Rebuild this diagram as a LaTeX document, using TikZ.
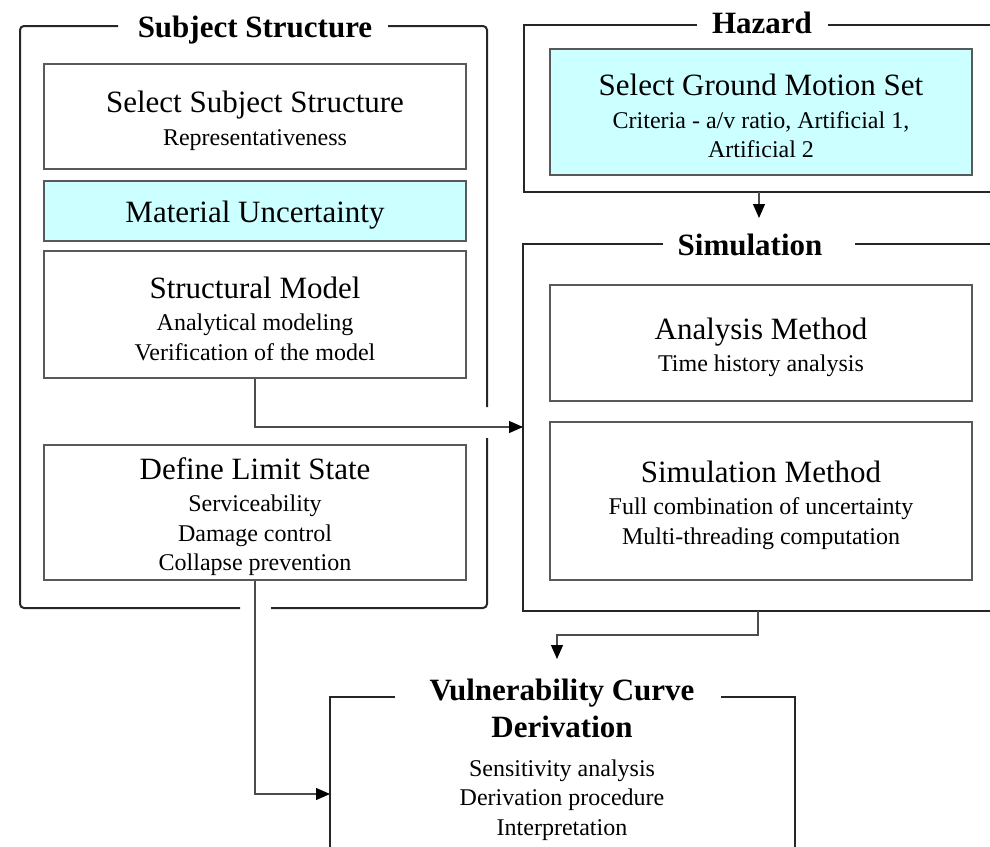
\documentclass[tikz,border=0pt]{standalone}
\usepackage{fontspec}
\setmainfont{Liberation Serif}
\usetikzlibrary{arrows.meta}

\definecolor{lcyan}{RGB}{204,255,255}
\newcommand{\boxhead}{\fontsize{31}{36}\selectfont\rule{0pt}{30pt}}

\begin{document}
\begin{tikzpicture}[x=1pt, y=-1pt,
    box/.style={draw=black!65, line width=1.3pt, minimum width=422pt, align=center, inner sep=0pt, font=\fontsize{24}{29.5}\selectfont},
    grpframe/.style={draw=black!85, line width=2pt},
    grp/.style={font=\fontsize{31}{37}\selectfont\bfseries, anchor=base, inner sep=0pt, align=center},
    arr/.style={-{Triangle[length=14pt, width=12pt, color=black]}, draw=black!70, line width=1.2pt}]
    \useasboundingbox (0,0) rectangle (990,846);
    \node[box, minimum height=105pt] (selsub) at (255,116.5) {{\boxhead Select Subject Structure}\\[3pt] Representativeness};
    \node[box, fill=lcyan, minimum height=60pt] (matunc) at (255,211) {\boxhead Material Uncertainty};
    \node[box, minimum height=127pt] (strmod) at (255,314.5) {{\boxhead Structural Model}\\[3pt] Analytical modeling\\ Verification of the model};
    \node[box, minimum height=135pt] (limst) at (255,512.5) {{\boxhead Define Limit State}\\[3pt] Serviceability\\ Damage control\\ Collapse prevention};
    \node[box, fill=lcyan, minimum height=126pt] (gmset) at (761,112) {{\boxhead Select Ground Motion Set}\\[3pt] Criteria - a/v ratio, Artificial 1,\\ Artificial 2};
    \node[box, minimum height=116pt] (anmeth) at (761,343) {{\boxhead Analysis Method}\\[3pt] Time history analysis};
    \node[box, minimum height=158pt] (simmeth) at (761,501) {{\boxhead Simulation Method}\\[3pt] Full combination of uncertainty\\ Multi-threading computation};
    \node[grp] (tsubj) at (255,37) {Subject Structure};
    \node[grp] (thaz) at (762,33) {Hazard};
    \node[grp] (tsim) at (750,255) {Simulation};
    \node[grp, anchor=center] (tvul) at (562,708) {Vulnerability Curve\\ Derivation};
    \node[font=\fontsize{24}{29.5}\selectfont, align=center] (vulbody) at (562,800) {Sensitivity analysis\\ Derivation procedure\\ Interpretation};
    \draw[grpframe, rounded corners=4pt] (118,26) -- (20,26) -- (20,608) -- (240,608);
    \draw[grpframe, rounded corners=4pt] (271,608) -- (487,608) -- (487,438);
    \draw[grpframe, rounded corners=4pt] (487,407) -- (487,26) -- (388,26);
    \draw[grpframe] (697,25) -- (524,25) -- (524,192) -- (995,192);
    \draw[grpframe] (828,25) -- (995,25);
    \draw[grpframe] (663,244) -- (523,244) -- (523,611) -- (995,611);
    \draw[grpframe] (855,244) -- (995,244);
    \draw[grpframe] (395,697) -- (330,697) -- (330,850);
    \draw[grpframe] (721,697) -- (795,697) -- (795,850);
    \coordinate (simW) at (523,427);
    \coordinate (hazS) at (759,192);
    \coordinate (simN) at (759,218);
    \coordinate (simS) at (758,611);
    \coordinate (vulN) at (557,659);
    \coordinate (vulW) at (330,794);
    \draw[arr] (strmod.south) |- (simW);
    \draw[arr] (hazS) -- (simN);
    \draw[arr] (simS) -- ++(0,24) -| (vulN);
    \draw[arr] (limst.south) |- (vulW);
\end{tikzpicture}
\end{document}
